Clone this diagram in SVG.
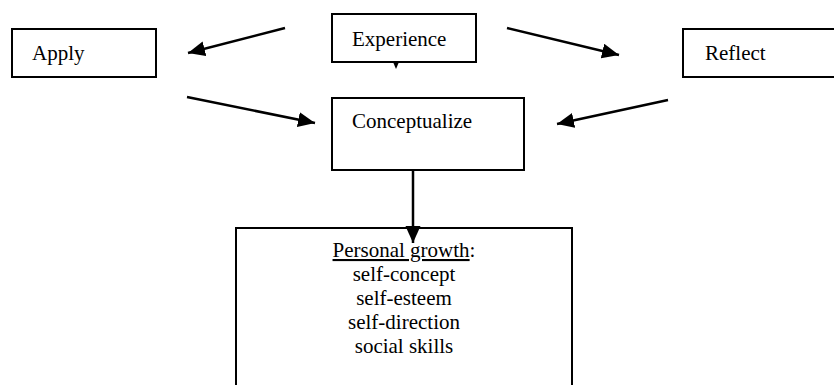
<svg xmlns="http://www.w3.org/2000/svg" width="834" height="385" viewBox="0 0 834 385">
<style>
.box{fill:#fff;stroke:#000;stroke-width:2}
.lbl{font-family:"Liberation Serif","Times New Roman",serif;font-size:21px;fill:#000}
.ctr{text-anchor:middle}
.conn{stroke:#000;stroke-width:2.5;fill:none;marker-end:url(#ah)}
</style>
<defs>
<marker id="ah" markerUnits="userSpaceOnUse" markerWidth="19" markerHeight="16" refX="17" refY="7.5" orient="auto">
<path d="M0,0 L17,7.5 L0,15 Z" fill="#000"/>
</marker>
</defs>
<rect width="834" height="385" fill="#fff"/>
<g id="apply">
<rect class="box" x="12" y="29" width="144" height="48"/>
<text class="lbl" x="32" y="60">Apply</text>
</g>
<g id="experience">
<rect class="box" x="332" y="14" width="144" height="48"/>
<text class="lbl" x="352" y="46">Experience</text>
<path d="M393,62 L399,62 L396,69 Z" fill="#000"/>
</g>
<g id="reflect">
<rect class="box" x="683" y="29" width="160" height="48"/>
<text class="lbl" x="705" y="60">Reflect</text>
</g>
<g id="conceptualize">
<rect class="box" x="332" y="98" width="192" height="72"/>
<text class="lbl" x="352" y="128">Conceptualize</text>
</g>
<g id="personal-growth">
<path d="M236,386 L236,228 L572,228 L572,386" fill="#fff" stroke="#000" stroke-width="2"/>
<text class="lbl ctr" x="404" y="257"><tspan text-decoration="underline">Personal growth</tspan>:</text>
<text class="lbl ctr" x="404" y="281">self-concept</text>
<text class="lbl ctr" x="404" y="305">self-esteem</text>
<text class="lbl ctr" x="404" y="329">self-direction</text>
<text class="lbl ctr" x="404" y="353">social skills</text>
</g>
<g id="connectors">
<line class="conn" x1="285" y1="28" x2="188" y2="53"/>
<line class="conn" x1="187" y1="97" x2="315" y2="123"/>
<line class="conn" x1="507" y1="28" x2="619" y2="55"/>
<line class="conn" x1="668" y1="100" x2="557" y2="124"/>
<line class="conn" x1="413" y1="171" x2="413" y2="243"/>
</g>
</svg>
